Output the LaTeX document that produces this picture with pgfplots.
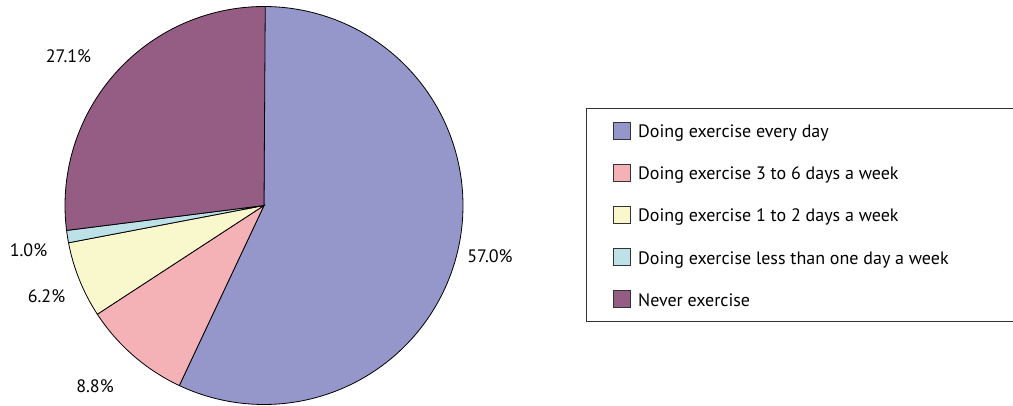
\documentclass[border=0pt]{standalone}
\usepackage{pgfplots}
\pgfplotsset{compat=1.18}
\usepackage{fontspec}
\setmainfont{PT Sans}

\definecolor{cEvery}{RGB}{149,151,202}
\definecolor{cThreeSix}{RGB}{244,177,182}
\definecolor{cOneTwo}{RGB}{249,248,205}
\definecolor{cLess}{RGB}{188,226,232}
\definecolor{cNever}{RGB}{149,92,132}

\newcommand\entry[1]{\makebox[348pt][l]{#1}}

\begin{document}
\begin{tikzpicture}
% shares in percent, clockwise from 12 o'clock
\pgfmathsetmacro\aA{90}
\pgfmathsetmacro\aB{\aA-3.6*57.0}
\pgfmathsetmacro\aC{\aB-3.6*8.8}
\pgfmathsetmacro\aD{\aC-3.6*6.2}
\pgfmathsetmacro\aE{\aD-3.6*1.0}
\pgfmathsetmacro\aF{\aE-3.6*27.1}
\begin{axis}[
    hide axis, scale only axis,
    width=1013pt, height=405pt,
    xmin=0, xmax=1013, ymin=0, ymax=405,
    clip=false,
    every axis plot/.append style={draw=black, line width=0.8pt, samples=150, variable=\t},
    legend cell align=left,
    legend image code/.code={\draw[#1, draw=black!80, line width=0.8pt] (0pt,-8.5pt) rectangle (17pt,8.5pt);},
    legend style={at={(axis cs:586,297)}, anchor=north west,
        draw=black!80, line width=0.8pt,
        inner xsep=27pt, inner ysep=8pt, row sep=14.25pt, column sep=7pt,
        font=\fontsize{18}{20}\selectfont,
        nodes={inner sep=0pt, text height=21pt, text depth=7pt}},
]
\addplot[fill=cEvery, domain=\aB:\aA] ({264+199*cos(\t)}, {199.5+199*sin(\t)}) -- (axis cs:264,199.5) -- cycle;
\addlegendentry{\entry{Doing exercise every day}}
\addplot[fill=cThreeSix, domain=\aC:\aB] ({264+199*cos(\t)}, {199.5+199*sin(\t)}) -- (axis cs:264,199.5) -- cycle;
\addlegendentry{\entry{Doing exercise 3 to 6 days a week}}
\addplot[fill=cOneTwo, domain=\aD:\aC] ({264+199*cos(\t)}, {199.5+199*sin(\t)}) -- (axis cs:264,199.5) -- cycle;
\addlegendentry{\entry{Doing exercise 1 to 2 days a week}}
\addplot[fill=cLess, domain=\aE:\aD] ({264+199*cos(\t)}, {199.5+199*sin(\t)}) -- (axis cs:264,199.5) -- cycle;
\addlegendentry{\entry{Doing exercise less than one day a week}}
\addplot[fill=cNever, domain=\aF:\aE] ({264+199*cos(\t)}, {199.5+199*sin(\t)}) -- (axis cs:264,199.5) -- cycle;
\addlegendentry{\entry{Never exercise}}

\begin{scope}[every node/.style={inner sep=0pt, font=\fontsize{18}{20}\selectfont}]
\node at (axis cs:490,148.5) {57.0\%};
\node at (axis cs:95,18.5) {8.8\%};
\node at (axis cs:46.5,109) {6.2\%};
\node at (axis cs:28.5,155) {1.0\%};
\node at (axis cs:68.5,348.5) {27.1\%};
\end{scope}
\end{axis}
\pgfresetboundingbox
\path (current axis.south west) rectangle (current axis.north east);
\end{tikzpicture}
\end{document}
